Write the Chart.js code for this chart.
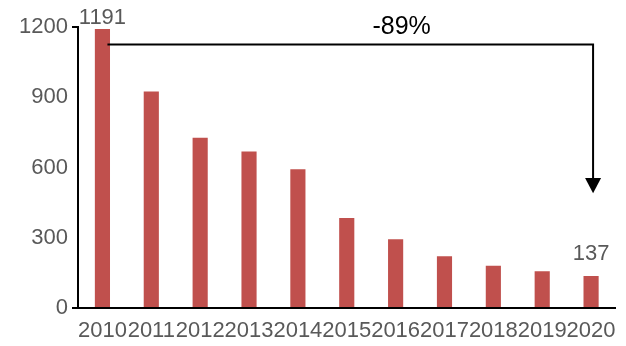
<!DOCTYPE html>
<html>
<head>
<meta charset="utf-8">
<script src="https://cdn.jsdelivr.net/npm/chart.js@4.4.1/dist/chart.umd.min.js"></script>
<style>
  html, body { margin: 0; padding: 0; background: #fff; }
  #wrap { width: 626px; height: 346px; position: relative; }
</style>
</head>
<body>
<div id="wrap"><canvas id="chart"></canvas></div>
<script>
// data
const years = ['2010', '2011', '2012', '2013', '2014', '2015', '2016', '2017', '2018', '2019', '2020']
const values = [1191, 925, 727, 668, 593, 384, 294, 221, 180, 157, 137]
const yTicks = [0, 300, 600, 900, 1200]
const changeText = '-89%'

const FONT = '"Liberation Sans", Arial, sans-serif'
const GREY = '#595959'

// labels on first and last bar, plus the bracket arrow with the change
const annotate = {
    id: 'annotate',
    afterDatasetsDraw(chart) {
        const ctx = chart.ctx
        const xs = chart.scales.x
        const ys = chart.scales.y
        const last = values.length - 1

        ctx.save()
        ctx.font = '22px ' + FONT
        ctx.fillStyle = GREY
        ctx.textAlign = 'center'
        ctx.textBaseline = 'alphabetic'
        ctx.fillText(String(values[0]), xs.getPixelForValue(0), ys.getPixelForValue(values[0]) - 5)
        ctx.fillText(String(values[last]), xs.getPixelForValue(last), ys.getPixelForValue(values[last]) - 16)

        // bracket arrow
        const x1 = xs.getPixelForValue(0) + 5
        const x2 = xs.getPixelForValue(last) + 2
        const yTop = ys.getPixelForValue(1125)
        const yBase = ys.getPixelForValue(555)
        const yTip = ys.getPixelForValue(490)
        ctx.strokeStyle = '#000'
        ctx.lineWidth = 2
        ctx.beginPath()
        ctx.moveTo(x1, yTop)
        ctx.lineTo(x2, yTop)
        ctx.lineTo(x2, yBase)
        ctx.stroke()
        ctx.fillStyle = '#000'
        ctx.beginPath()
        ctx.moveTo(x2 - 8, yBase)
        ctx.lineTo(x2 + 8, yBase)
        ctx.lineTo(x2, yTip)
        ctx.closePath()
        ctx.fill()

        ctx.font = '25px ' + FONT
        ctx.fillText(changeText, xs.getPixelForValue(6) + 6, yTop - 11)
        ctx.restore()
    }
}

new Chart(document.getElementById('chart'), {
    type: 'bar',
    data: {
        labels: years,
        datasets: [{
            data: values,
            backgroundColor: '#C0504D',
            categoryPercentage: 1,
            barPercentage: 0.31
        }]
    },
    options: {
        responsive: true,
        maintainAspectRatio: false,
        animation: false,
        layout: { padding: { top: 27, right: 10, left: 0, bottom: 0 } },
        plugins: { legend: { display: false }, tooltip: { enabled: false } },
        scales: {
            x: {
                grid: { display: true, drawOnChartArea: false, drawTicks: false },
                border: { display: true, color: '#000', width: 2 },
                ticks: {
                    autoSkip: false, maxRotation: 0, padding: 10,
                    color: GREY, font: { family: FONT, size: 22 }
                },
                afterFit(scale) { scale.height = 38 }
            },
            y: {
                min: 0, max: 1200,
                afterBuildTicks(scale) { scale.ticks = yTicks.map(v => ({ value: v })) },
                grid: {
                    drawOnChartArea: false, tickLength: 6, lineWidth: 2,
                    color: c => (c.tick && (c.tick.value === 1200 || c.tick.value === 0)) ? '#000' : 'rgba(0,0,0,0)'
                },
                border: { display: true, color: '#000', width: 2 },
                ticks: {
                    padding: 4, color: GREY, font: { family: FONT, size: 22 },
                    callback: v => String(v)
                },
                afterFit(scale) { scale.width = 78 }
            }
        }
    },
    plugins: [annotate]
})
</script>
</body>
</html>
